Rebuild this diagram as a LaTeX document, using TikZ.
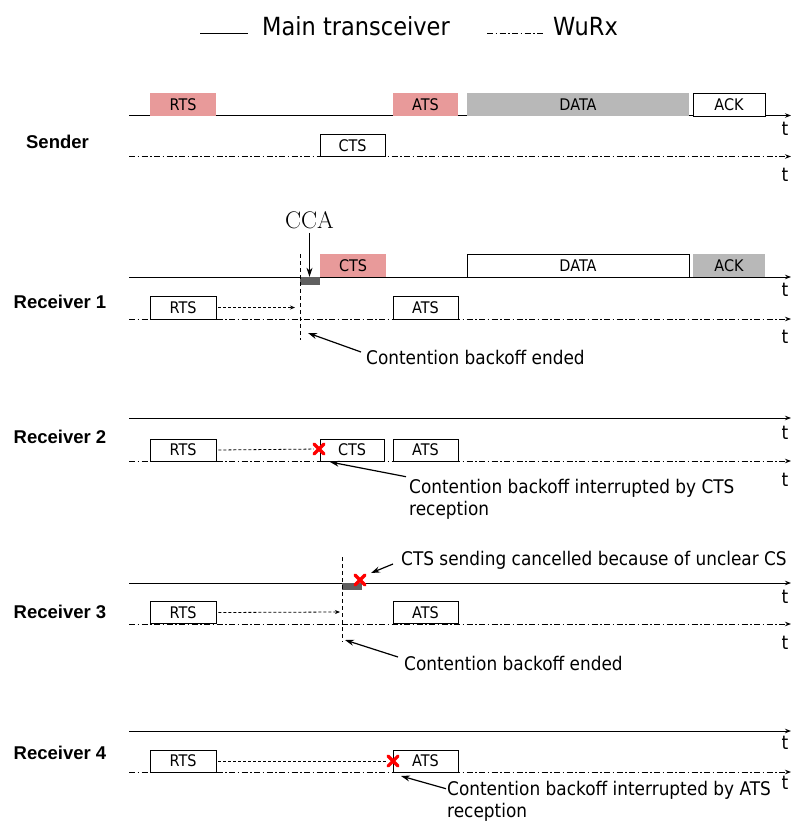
\documentclass[tikz,border=0pt]{standalone}
\usepackage{fontspec}
\newfontfamily\condfont[FakeStretch=0.9]{DejaVu Sans}
\newfontfamily\labelfont{Liberation Sans}
\usetikzlibrary{arrows.meta,shapes.misc}
\definecolor{ctspink}{HTML}{E89A9A}
\definecolor{datagray}{HTML}{B8B8B8}
\definecolor{ccagray}{HTML}{606060}
\tikzset{
pkt/.style={minimum height=23pt,inner sep=0pt,font=\condfont\fontsize{16}{18}\selectfont},
pinkpkt/.style={pkt,fill=ctspink},
greypkt/.style={pkt,fill=datagray},
whitepkt/.style={pkt,draw,fill=white,line width=.8pt},
ccablock/.style={fill=ccagray,inner sep=0pt},
mainline/.style={line width=.9pt,-{Stealth[length=6pt,width=4.5pt]}},
wurxline/.style={line width=.9pt,dash pattern=on 6pt off 2.5pt on 1.5pt off 2.5pt,-{Stealth[length=6pt,width=4.5pt]}},
waitline/.style={line width=.8pt,dash pattern=on 3pt off 2pt},
cutline/.style={line width=.8pt,dash pattern=on 4pt off 3pt},
pointer/.style={line width=1.2pt,-{Stealth[length=9pt,width=6pt]}},
xmark/.style={cross out,draw=red,line width=3.2pt,line cap=round,minimum size=7pt,inner sep=0pt},
rxlabel/.style={font=\labelfont\bfseries\fontsize{18.5}{22}\selectfont},
note/.style={font=\condfont\fontsize{18.8}{22}\selectfont,align=left,anchor=west,inner sep=0pt},
tmark/.style={font=\condfont\fontsize{19}{22}\selectfont,inner sep=0pt},
legend/.style={font=\condfont\fontsize{25}{30}\selectfont,anchor=west,inner sep=0pt}
}
\begin{document}
\begin{tikzpicture}[x=1pt,y=-1pt]
\useasboundingbox (0,0) rectangle (796,822);
\draw[line width=.9pt](200,33)--(248,33);\node[legend](lgmain)at(262,26.5){Main transceiver};
\draw[line width=.9pt,dash pattern=on 6pt off 2.5pt on 1.5pt off 2.5pt](487,33)--(543,33);\node[legend](lgwurx)at(553,26.5){WuRx};

\node[rxlabel](slbl)at(57.5,142){Sender};
\draw[mainline](129,115.5)coordinate(sM0)--(791,115.5)coordinate(sM1);\node[tmark](sMt)at(785,128.5){t};
\draw[wurxline](129,156.5)coordinate(sW0)--(791,156.5)coordinate(sW1);\node[tmark](sWt)at(785,175){t};
\node[pinkpkt,minimum width=66](sRTS)at(183,104.5){RTS};
\node[pinkpkt,minimum width=65](sATS)at(425.5,104.5){ATS};
\node[greypkt,minimum width=222](sDATA)at(578,104.5){DATA};
\node[whitepkt,minimum width=72](sACK)at(729,104.5){ACK};
\node[whitepkt,minimum width=65,minimum height=22](sCTS)at(352.5,145.5){CTS};

\node[rxlabel](r1lbl)at(60,302){Receiver 1};
\draw[mainline](129,277)coordinate(r1M0)--(791,277)coordinate(r1M1);\node[tmark](r1Mt)at(785,290){t};
\draw[wurxline](129,319)coordinate(r1W0)--(791,319)coordinate(r1W1);\node[tmark](r1Wt)at(785,337){t};
\node[pinkpkt,minimum width=66](r1CTS)at(353,265.5){CTS};
\node[whitepkt,minimum width=222](r1DATA)at(578,265.5){DATA};
\node[greypkt,minimum width=72](r1ACK)at(729,265.5){ACK};
\node[ccablock,minimum width=20,minimum height=8](r1blk)at(310,281){};
\node[whitepkt,minimum width=66](r1RTS)at(183,307.5){RTS};
\node[whitepkt,minimum width=65](r1ATS)at(425.5,307.5){ATS};
\node[inner sep=0pt,font=\fontsize{24}{26}\selectfont](cca)at(309.5,220.5){CCA};
\draw[pointer]([yshift=-3.5pt]cca.south)--(cca.south|-r1blk.north);
\coordinate(r1top)at(300,254);\coordinate(r1bot)at(300,340);\draw[cutline](r1top)--(r1bot);
\coordinate(r1wait)at(295,307.5);\draw[waitline,-{Stealth[length=5pt,width=4pt]}]([xshift=2pt]r1RTS.east)--(r1wait);
\node[note](r1note)at(366,357){Contention backoff ended};
\coordinate(r1end)at(308,333);\draw[pointer]([xshift=-5pt,yshift=5pt]r1note.west)--(r1end);

\node[rxlabel](r2lbl)at(60,437){Receiver 2};
\draw[mainline](129,418)coordinate(r2M0)--(791,418)coordinate(r2M1);\node[tmark](r2Mt)at(785,433){t};
\draw[wurxline](129,461)coordinate(r2W0)--(791,461)coordinate(r2W1);\node[tmark](r2Wt)at(785,480){t};
\node[whitepkt,minimum width=66,minimum height=22](r2RTS)at(183,450){RTS};
\node[whitepkt,minimum width=64,minimum height=22](r2CTS)at(352,450){CTS};
\node[whitepkt,minimum width=65,minimum height=22](r2ATS)at(425.5,450){ATS};
\node[xmark](r2x)at(319,449){};
\draw[waitline]([xshift=2pt]r2RTS.east)--(r2x);
\node[note](r2note)at(409,499){Contention backoff interrupted by CTS\\reception};
\coordinate(r2end)at(330,462);\draw[pointer]([xshift=-3pt,yshift=2pt]r2note.north west)--(r2end);

\node[rxlabel](r3lbl)at(60,612){Receiver 3};
\draw[mainline](129,583)coordinate(r3M0)--(791,583)coordinate(r3M1);\node[tmark](r3Mt)at(785,597){t};
\draw[wurxline](129,624)coordinate(r3W0)--(791,624)coordinate(r3W1);\node[tmark](r3Wt)at(785,643){t};
\node[ccablock,minimum width=20,minimum height=7](r3blk)at(352,586.5){};
\node[whitepkt,minimum width=66,minimum height=22](r3RTS)at(183,612.5){RTS};
\node[whitepkt,minimum width=65,minimum height=22](r3ATS)at(425.5,612.5){ATS};
\node[xmark](r3x)at(360,580){};
\coordinate(r3top)at(342.5,557);\coordinate(r3bot)at(342.5,642);\draw[cutline](r3top)--(r3bot);
\coordinate(r3wait)at(340,612);\draw[waitline,-{Stealth[length=5pt,width=4pt]}]([xshift=2pt]r3RTS.east)--(r3wait);
\node[note](r3top note)at(401,560){CTS sending cancelled because of unclear CS};
\coordinate(r3xend)at(371,573);\draw[pointer]([xshift=-8pt,yshift=-4pt]r3top note.west)--(r3xend);
\node[note](r3note)at(404,663){Contention backoff ended};
\coordinate(r3end)at(345,640);\draw[pointer]([xshift=-6pt,yshift=6pt]r3note.west)--(r3end);

\node[rxlabel](r4lbl)at(60,753){Receiver 4};
\draw[mainline](129,731)coordinate(r4M0)--(791,731)coordinate(r4M1);\node[tmark](r4Mt)at(785,743){t};
\draw[wurxline](129,772)coordinate(r4W0)--(791,772)coordinate(r4W1);\node[tmark](r4Wt)at(785,783){t};
\node[whitepkt,minimum width=66,minimum height=22](r4RTS)at(183,761){RTS};
\node[whitepkt,minimum width=65,minimum height=22](r4ATS)at(425.5,761){ATS};
\node[xmark](r4x)at(393,761){};
\draw[waitline]([xshift=2pt]r4RTS.east)--(r4x);
\node[note](r4note)at(447,801){Contention backoff interrupted by ATS\\reception};
\coordinate(r4end)at(401,776);\draw[pointer]([xshift=-1pt,yshift=-8pt]r4note.north west)--(r4end);
\end{tikzpicture}
\end{document}
